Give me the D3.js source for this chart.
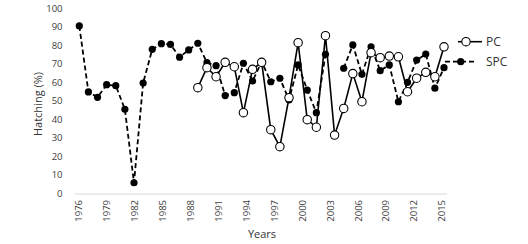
<!DOCTYPE html>
<html>
<head>
<meta charset="utf-8">
<script src="https://cdn.jsdelivr.net/npm/d3@7"></script>
<style>
  html, body { margin: 0; padding: 0; background: #fff; }
  svg { display: block; }
  text { font-family: "Open Sans", "Noto Sans", sans-serif; }
</style>
</head>
<body>
<svg id="chart" width="528" height="244"></svg>
<script>
// ---- data ----
const years = d3.range(1976, 2017);
const spcValues = [
  90.5, 54.8, 51.9, 58.7, 58.2, 45.4, 5.7, 59.6, 77.8, 80.9,
  80.5, 73.6, 77.5, 81.1, 70.6, 69.0, 52.8, 54.4, 70.3, 60.7,
  71.1, 60.3, 62.2, 50.5, 69.4, 55.8, 43.6, 75.1, null, 67.6,
  80.2, 64.3, 79.2, 66.3, 69.4, 49.5, 60.0, 72.0, 75.3, 56.8,
  67.9
];
const pcValues = [
  null, null, null, null, null, null, null, null, null, null,
  null, null, null, 57.1, 67.9, 63.0, 70.8, 68.4, 43.6, 67.0,
  70.8, 34.4, 25.2, 51.7, 81.4, 39.8, 35.7, 85.2, 31.5, 45.9,
  64.7, 49.5, 76.0, 73.3, 74.2, 73.8, 54.9, 62.2, 65.4, 63.0,
  79.2
];
const xTickLabels = [1976, 1979, 1982, 1985, 1988, 1991, 1994, 1997, 2000, 2003, 2006, 2009, 2012, 2015];
const yTickLabels = [0, 10, 20, 30, 40, 50, 60, 70, 80, 90, 100];
const seriesNames = ["PC", "SPC"];

// ---- scales ----
const svg = d3.select("#chart");
const x = d3.scaleLinear().domain([1976, 2016]).range([79.3, 444]);
const xLabel = d3.scaleLinear().domain([1976, 2015]).range([79, 442]);
const y = d3.scaleLinear().domain([0, 100]).range([193.3, 8.3]);

// ---- x axis ----
const xAxisG = svg.append("g").attr("transform", "translate(0,194)");
xAxisG.append("line")
  .attr("x1", 75).attr("x2", 447).attr("y1", 0).attr("y2", 0)
  .attr("stroke", "#d9d9d9").attr("stroke-width", 1);
xAxisG.selectAll("text.xt").data(xTickLabels).join("text")
  .attr("class", "xt")
  .attr("transform", d => `translate(${xLabel(d)},6) rotate(-90)`)
  .attr("text-anchor", "end")
  .attr("dy", "0.35em")
  .attr("font-size", 9.5)
  .attr("fill", "#404040")
  .text(d => d);

// ---- y axis labels ----
const yAxis = d3.axisLeft(y).tickValues(yTickLabels).tickSize(0).tickPadding(0);
const yAxisG = svg.append("g").attr("transform", "translate(62.5,0)").call(yAxis);
yAxisG.select(".domain").remove();
yAxisG.selectAll("text")
  .attr("font-size", 9.5)
  .attr("fill", "#404040")
  .attr("font-family", "'Open Sans', 'Noto Sans', sans-serif");

// axis titles
svg.append("text")
  .attr("transform", "translate(38,104) rotate(-90)")
  .attr("text-anchor", "middle")
  .attr("dy", "0.35em")
  .attr("font-size", 11)
  .attr("fill", "#333")
  .text("Hatching (%)");
svg.append("text")
  .attr("x", 262).attr("y", 234)
  .attr("text-anchor", "middle")
  .attr("dy", "0.35em")
  .attr("font-size", 11)
  .attr("fill", "#333")
  .text("Years");

// ---- series ----
const spc = years.map((yr, i) => ({ yr, v: spcValues[i] }));
const pc = years.map((yr, i) => ({ yr, v: pcValues[i] }));
const line = d3.line()
  .defined(d => d.v !== null)
  .x(d => x(d.yr)).y(d => y(d.v));

svg.append("path").datum(spc)
  .attr("d", line)
  .attr("fill", "none").attr("stroke", "#000")
  .attr("stroke-width", 1.8).attr("stroke-dasharray", "5,3");
svg.selectAll("circle.spc").data(spc.filter(d => d.v !== null)).join("circle")
  .attr("class", "spc")
  .attr("cx", d => x(d.yr)).attr("cy", d => y(d.v)).attr("r", 3.6)
  .attr("fill", "#000");

svg.append("path").datum(pc)
  .attr("d", line)
  .attr("fill", "none").attr("stroke", "#000")
  .attr("stroke-width", 1.6);
svg.selectAll("circle.pc").data(pc.filter(d => d.v !== null)).join("circle")
  .attr("class", "pc")
  .attr("cx", d => x(d.yr)).attr("cy", d => y(d.v)).attr("r", 4.2)
  .attr("fill", "#fff").attr("stroke", "#000").attr("stroke-width", 1.1);

// ---- legend ----
const lg = svg.append("g");
// PC
lg.append("line").attr("x1", 458).attr("x2", 482).attr("y1", 41.7).attr("y2", 41.7)
  .attr("stroke", "#000").attr("stroke-width", 1.6);
lg.append("circle").attr("cx", 466).attr("cy", 41.7).attr("r", 4.2)
  .attr("fill", "#fff").attr("stroke", "#000").attr("stroke-width", 1.1);
lg.append("text").attr("x", 486).attr("y", 41.7).attr("dy", "0.35em")
  .attr("font-size", 12).attr("fill", "#333").text(seriesNames[0]);
// SPC
lg.append("line").attr("x1", 445).attr("x2", 476).attr("y1", 61.7).attr("y2", 61.7)
  .attr("stroke", "#000").attr("stroke-width", 1.8).attr("stroke-dasharray", "5,3");
lg.append("circle").attr("cx", 460.7).attr("cy", 61.7).attr("r", 3.6).attr("fill", "#000");
lg.append("text").attr("x", 486).attr("y", 61.7).attr("dy", "0.35em")
  .attr("font-size", 12).attr("fill", "#333").text(seriesNames[1]);
</script>
</body>
</html>
